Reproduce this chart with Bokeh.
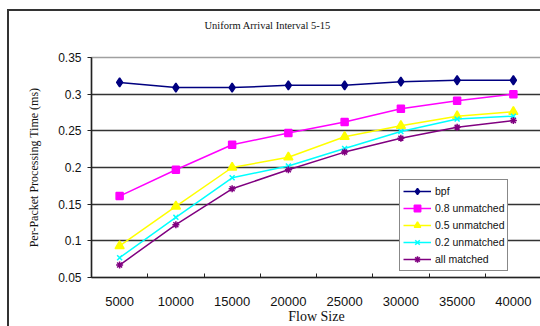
from bokeh.plotting import figure
from bokeh.models import FixedTicker, Legend, LegendItem, CustomJSTickFormatter, Range1d, Title
from bokeh.embed import file_html
from bokeh.resources import INLINE

categories = ["5000", "10000", "15000", "20000", "25000", "30000", "35000", "40000"]
bpf = [0.316, 0.309, 0.309, 0.312, 0.312, 0.317, 0.319, 0.319]
unmatched_08 = [0.161, 0.197, 0.231, 0.247, 0.262, 0.280, 0.291, 0.300]
unmatched_05 = [0.093, 0.147, 0.200, 0.214, 0.242, 0.257, 0.270, 0.276]
unmatched_02 = [0.077, 0.132, 0.186, 0.202, 0.226, 0.249, 0.266, 0.270]
all_matched = [0.067, 0.122, 0.171, 0.197, 0.221, 0.240, 0.255, 0.264]
y_ticks = [0.05, 0.1, 0.15, 0.2, 0.25, 0.3, 0.35]

series = [
    ("bpf", bpf, "#000080", "diamond", 9),
    ("0.8 unmatched", unmatched_08, "#FF00FF", "square", 7),
    ("0.5 unmatched", unmatched_05, "#FFFF00", "triangle", 9),
    ("0.2 unmatched", unmatched_02, "#00FFFF", "x", 7),
    ("all matched", all_matched, "#800080", "asterisk", 7),
]

xs = list(range(1, len(categories) + 1))

p = figure(width=533, height=317, output_backend="svg", toolbar_location=None,
           x_range=Range1d(0.5, len(categories) + 0.5), y_range=Range1d(0.05, 0.35),
           min_border_left=82, min_border_right=1, min_border_top=46, min_border_bottom=51,
           margin=(9, 0, 0, 7),
           styles={"border-left": "2px solid #333", "border-top": "2px solid #333"})
p.background_fill_color = "white"
p.border_fill_color = "white"
p.outline_line_color = "#a0a0a0"
p.outline_line_width = 1.5

# real title on top, spacer title between it and the frame
p.title = Title(text="Uniform Arrival Interval 5-15", align="left", offset=113,
                text_font="Liberation Serif", text_font_size="10.5px", text_font_style="normal",
                text_color="#111")
p.add_layout(Title(text=" ", text_font_size="18px", standoff=0), "above")

# axes
p.xaxis.ticker = FixedTicker(ticks=xs, minor_ticks=[x - 0.5 for x in xs] + [xs[-1] + 0.5])
p.xaxis.major_label_overrides = {x: c for x, c in zip(xs, categories)}
p.xaxis.major_tick_in = 0
p.xaxis.major_tick_out = 0
p.xaxis.minor_tick_in = 4
p.xaxis.minor_tick_out = 0
p.xaxis.minor_tick_line_color = "#222"
p.xaxis.axis_line_color = "#222"
p.xaxis.axis_line_width = 1.5
p.xaxis.major_label_standoff = 19
p.xaxis.major_label_text_font = "Liberation Sans"
p.xaxis.major_label_text_font_size = "13px"
p.xaxis.major_label_text_color = "#111"
p.xaxis.axis_label = "Flow Size"
p.xaxis.axis_label_text_font = "Liberation Serif"
p.xaxis.axis_label_text_font_style = "normal"
p.xaxis.axis_label_text_font_size = "14px"
p.xaxis.axis_label_standoff = 0
p.xaxis.axis_label_text_color = "#111"

p.yaxis.ticker = FixedTicker(ticks=y_ticks, minor_ticks=[])
p.yaxis.formatter = CustomJSTickFormatter(code="return String(Math.round(tick*100)/100);")
p.yaxis.major_tick_in = 0
p.yaxis.major_tick_out = 4
p.yaxis.major_tick_line_color = "#222"
p.yaxis.axis_line_color = "#222"
p.yaxis.axis_line_width = 1.5
p.yaxis.major_label_standoff = 6
p.yaxis.major_label_text_font = "Liberation Sans"
p.yaxis.major_label_text_font_size = "12px"
p.yaxis.major_label_text_color = "#111"
p.yaxis.axis_label = "Per-Packet Processing Time (ms)"
p.yaxis.axis_label_text_font = "Liberation Serif"
p.yaxis.axis_label_text_font_style = "normal"
p.yaxis.axis_label_text_font_size = "12px"
p.yaxis.axis_label_standoff = 14
p.yaxis.axis_label_text_color = "#111"

p.xgrid.grid_line_color = None
p.ygrid.ticker = FixedTicker(ticks=y_ticks[1:-1])
p.ygrid.grid_line_color = "#333"
p.ygrid.grid_line_width = 1.5

items = []
for name, vals, color, marker, size in series:
    r1 = p.line(xs, vals, line_color=color, line_width=1.5)
    r2 = p.scatter(xs, vals, marker=marker, size=size, fill_color=color, line_color=color, line_width=1.5)
    items.append(LegendItem(label=name, renderers=[r1, r2]))

legend = Legend(items=items, location=(308, 6), orientation="vertical")
legend.border_line_color = "#111"
legend.border_line_width = 1
legend.background_fill_color = "white"
legend.background_fill_alpha = 1
legend.padding = 3
legend.margin = 0
legend.spacing = 1
legend.glyph_width = 28
legend.glyph_height = 16
legend.label_standoff = 4
legend.label_height = 16
legend.label_text_font = "Liberation Sans"
legend.label_text_font_size = "10.5px"
legend.label_text_color = "#111"
p.add_layout(legend, "center")

open("out.html", "w").write(file_html(p, INLINE))
